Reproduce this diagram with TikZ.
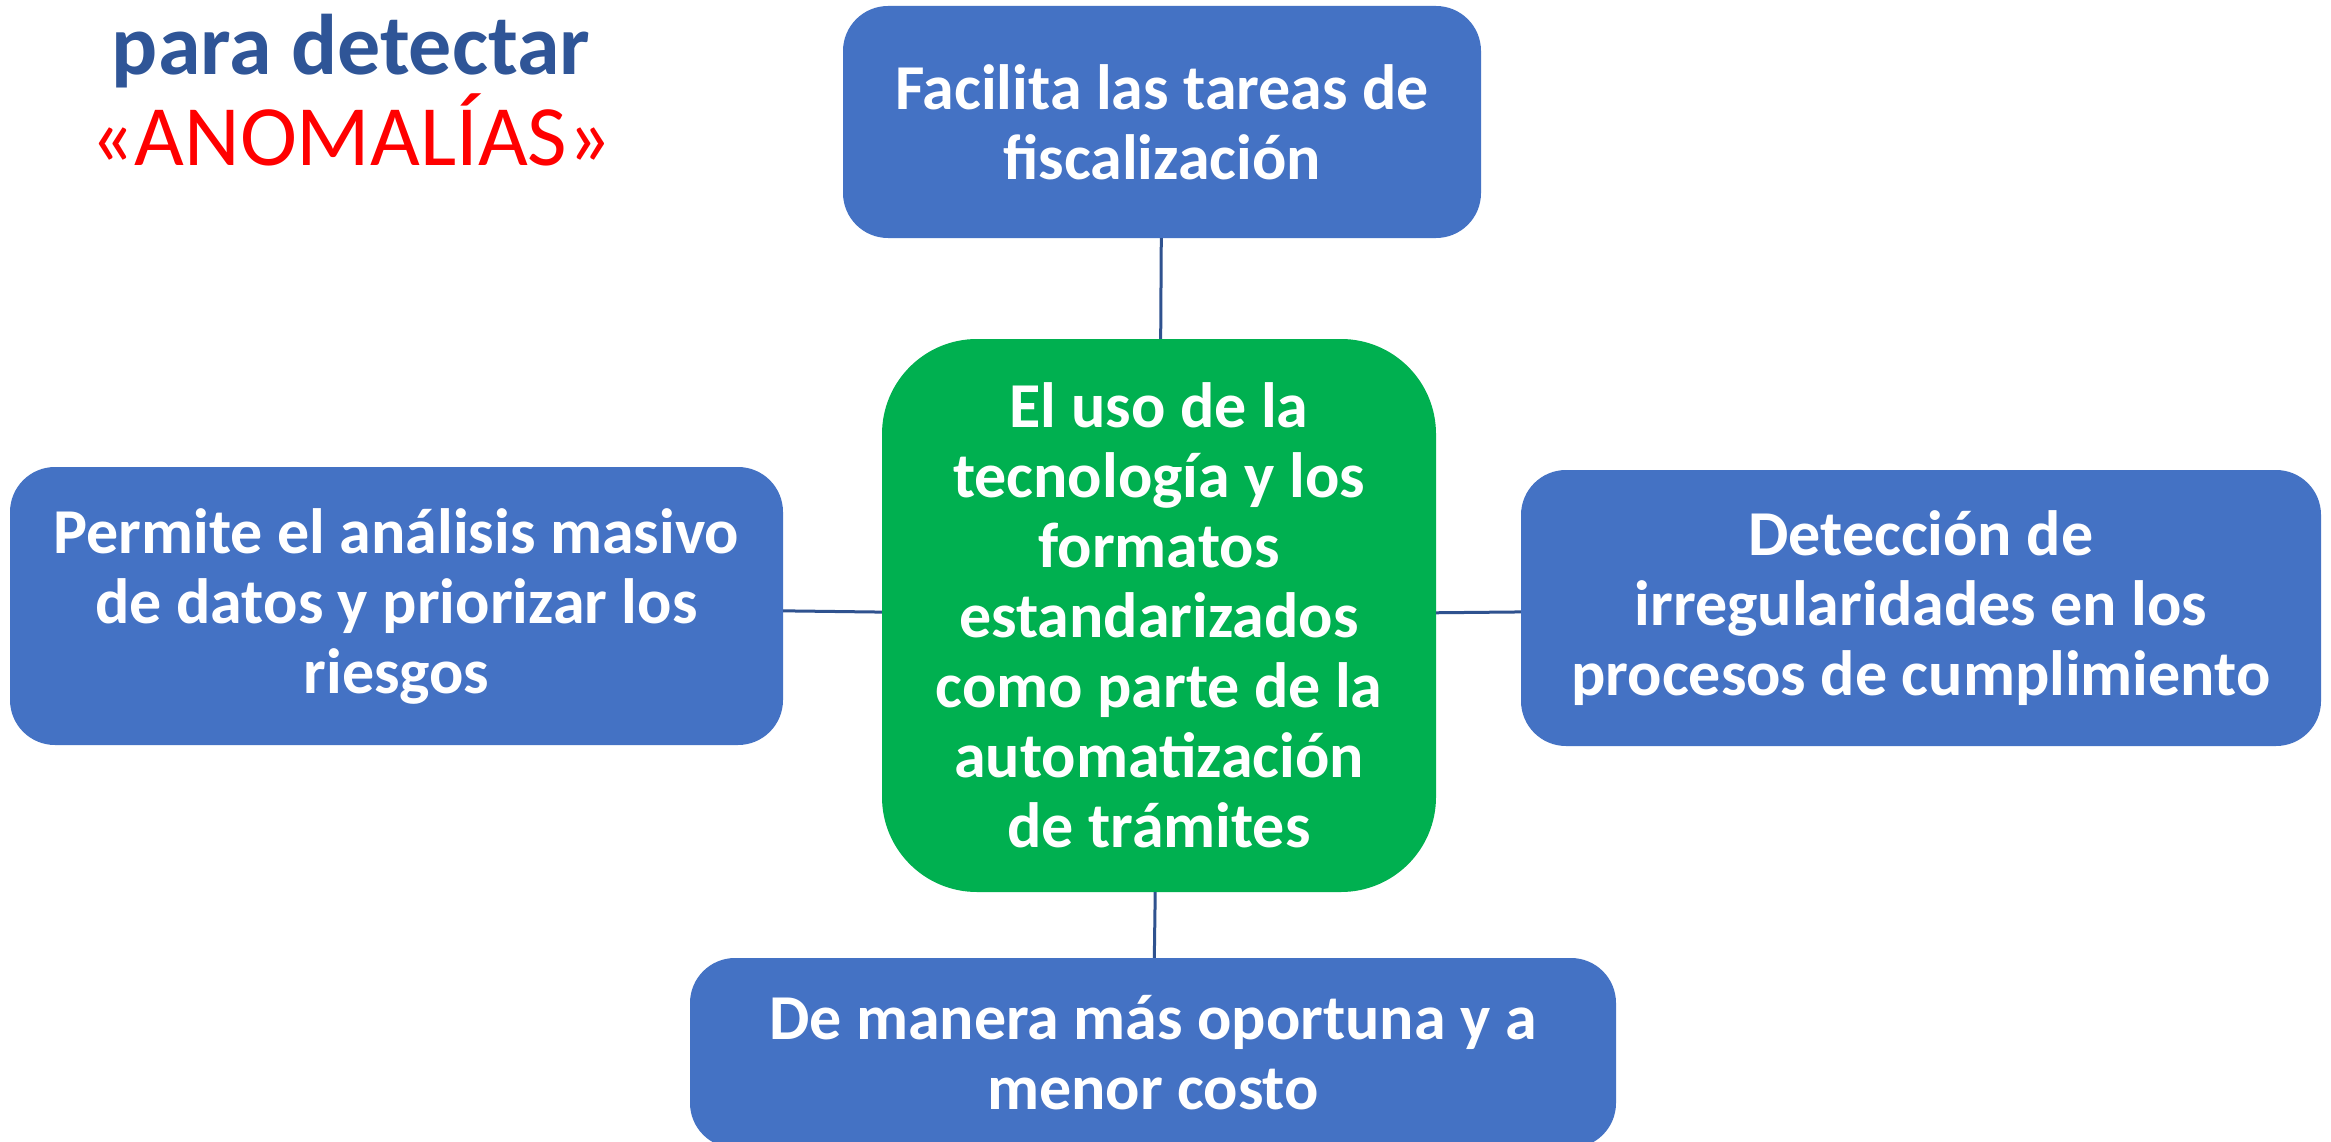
\documentclass[tikz,border=0pt]{standalone}
\usepackage{fontspec}
\setmainfont{Carlito}
\definecolor{boxblue}{HTML}{4472C4}
\definecolor{boxgreen}{HTML}{00B050}
\definecolor{titleblue}{HTML}{2F5597}
\definecolor{connblue}{HTML}{2F528F}
\definecolor{titlered}{HTML}{FF0000}
\tikzset{
  bluebox/.style={fill=boxblue, rounded corners=45pt, text=white, align=center,
    font=\fontsize{64}{70}\selectfont\bfseries, inner sep=0pt},
  greenbox/.style={fill=boxgreen, rounded corners=95pt, text=white, align=center,
    font=\fontsize{64}{70}\selectfont\bfseries, inner sep=0pt},
  conn/.style={draw=connblue, line width=3pt},
}
\begin{document}
\begin{tikzpicture}[x=1pt,y=-1pt]
\useasboundingbox (0,0) rectangle (2331,1142);
\clip (0,0) rectangle (2331,1142);
\fill[white] (0,0) rectangle (2331,1142);
% title
\node[anchor=base, text=titleblue, font=\fontsize{86}{100}\selectfont\bfseries, inner sep=0pt] (t1) at (351,75) {para detectar};
\node[anchor=base, text=titlered, font=\fontsize{86}{100}\selectfont, inner sep=0pt] (t2) at (351,166) {«ANOMALÍAS»};
% boxes
\node[greenbox, minimum width=554pt, minimum height=553pt] (c) at (1159,615.5)
  {El uso de la\\tecnología y los\\formatos\\estandarizados\\como parte de la\\automatización\\de trámites};
\node[bluebox, minimum width=638pt, minimum height=232pt] (top) at (1162,122)
  {Facilita las tareas de\\fiscalización};
\node[bluebox, minimum width=773pt, minimum height=278pt] (left) at (396.5,606)
  {Permite el análisis masivo\\de datos y priorizar los\\riesgos};
\node[bluebox, minimum width=800pt, minimum height=276pt] (right) at (1921,608)
  {Detección de\\irregularidades en los\\procesos de cumplimiento};
\node[bluebox, minimum width=926pt, minimum height=190pt] (bottom) at (1153,1053)
  {De manera más oportuna y a\\menor costo};
% connectors
\draw[conn] (top) -- (c);
\draw[conn] (left) -- (c);
\draw[conn] (right) -- (c);
\draw[conn] (bottom) -- (c);
\end{tikzpicture}
\end{document}
